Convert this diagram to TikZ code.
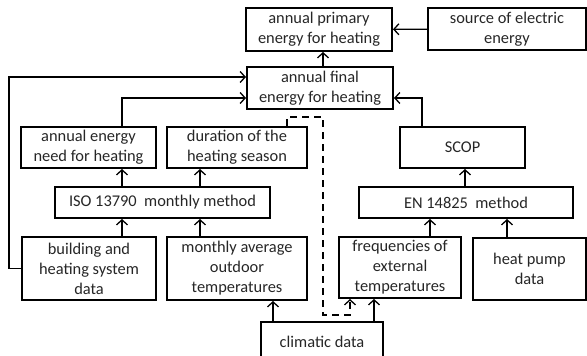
\documentclass[tikz,border=0pt]{standalone}
\usepackage{fontspec}
\setmainfont{Carlito}
\usetikzlibrary{arrows.meta,positioning,calc}

\begin{document}
\begin{tikzpicture}[x=1pt,y=-1pt,box/.style={draw,line width=2pt,align=center,inner sep=1pt,text=black!85,font=\fontsize{16.4}{20}\selectfont},arr/.style={-{Straight Barb[length=5pt,width=11pt]},line width=1.3pt}]
\useasboundingbox (0,0) rectangle (587,356);
% top row
\node[box,minimum width=146pt,minimum height=43pt] (prim) at (319,29.5) {annual primary\\energy for heating};
\node[box,minimum width=158pt,minimum height=42pt] (src) at (507,29) {source of electric\\energy};
\node[box,minimum width=146pt,minimum height=42pt] (final) at (320,88) {annual final\\energy for heating};
% results
\node[box,minimum width=135pt,minimum height=41pt] (need) at (88.5,147.5) {annual energy\\need for heating};
\node[box,minimum width=140pt,minimum height=41pt] (dur) at (237,147.5) {duration of the\\heating season};
\node[box,minimum width=125pt,minimum height=41pt] (scop) at (462.5,147.5) {SCOP};
% methods
\node[box,minimum width=215pt,minimum height=31pt] (iso) at (162.5,202.5) {ISO 13790\ \ monthly method};
\node[box,minimum width=214pt,minimum height=31pt] (en) at (466,202.5) {EN 14825\ \ method};
% input data
\node[box,minimum width=134pt,minimum height=63pt] (bld) at (89,268.5) {building and\\heating system\\data};
\node[box,minimum width=140pt,minimum height=63pt] (mon) at (237,268.5) {monthly average\\outdoor\\temperatures};
\node[box,minimum width=122pt,minimum height=61pt] (freq) at (400,267.5) {frequencies of\\external\\temperatures};
\node[box,minimum width=113pt,minimum height=62pt] (hp) at (529.5,269) {heat pump\\data};
\node[box,minimum width=122pt,minimum height=39pt] (clim) at (322,341.5) {climatic data};
% connector columns
\coordinate (c1) at (122,0);\coordinate (c2) at (200,0);\coordinate (c3) at (273,0);\coordinate (c4) at (374,0);
\coordinate (c5) at (430,0);\coordinate (c6) at (507,0);\coordinate (c7) at (465,0);\coordinate (c8) at (422,0);
\coordinate (d1) at (287,117);\coordinate (d2) at (323,315);\coordinate (d3) at (350,0);
\draw[arr](final.north -| d2)--(prim.south -| d2);\draw[arr](src)--(prim);
\draw[arr](bld.west)--++(-12,0)|-([yshift=11pt]final.west);
\draw[arr](need.north -| c1)|-([yshift=-10pt]final.west);
\draw[arr](scop.north -| c8)|-([yshift=-10pt]final.east);
\draw[arr](iso.north -| c1)--(need.south -| c1);\draw[arr](iso.north -| c2)--(dur.south -| c2);
\draw[arr](bld.north -| c1)--(iso.south -| c1);\draw[arr](mon.north -| c2)--(iso.south -| c2);
\draw[arr](en.north -| c7)--(scop.south -| c7);
\draw[arr](freq.north -| c5)--(en.south -| c5);\draw[arr](hp.north -| c6)--(en.south -| c6);
\draw[arr](clim.north -| c3)--(mon.south -| c3);\draw[arr](clim.north -| c4)--(freq.south -| c4);
\draw[arr,dash pattern=on 7pt off 5pt](dur.north -| d1)--(d1)-|(d2)-|(freq.south -| d3);
\end{tikzpicture}
\end{document}
